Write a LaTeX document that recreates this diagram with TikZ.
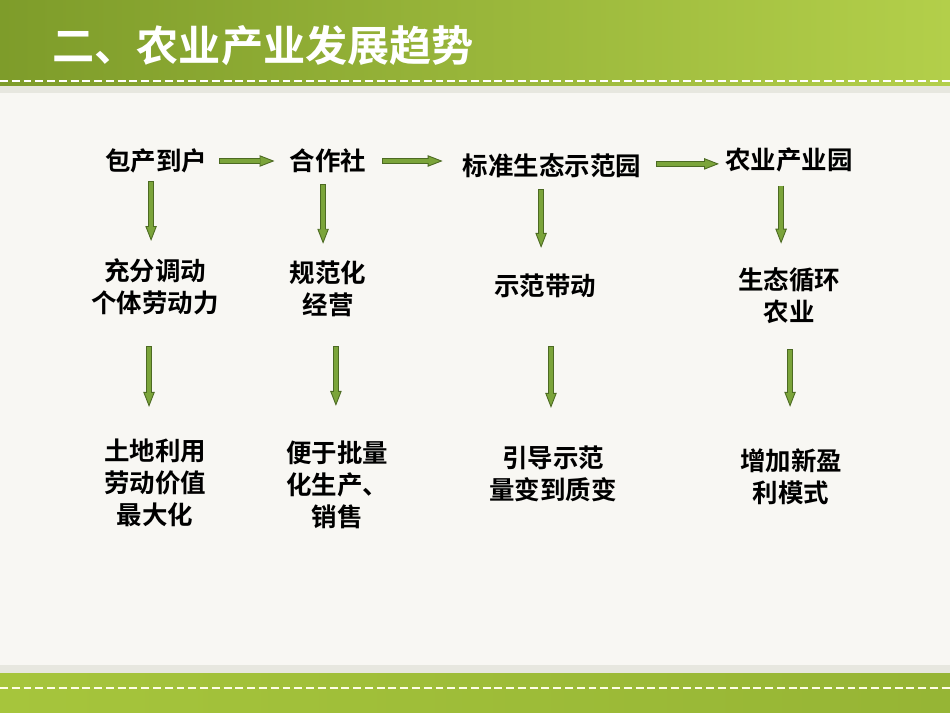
\documentclass[tikz,border=0pt]{standalone}
\usepackage{fontspec}
\newfontfamily\cjk{Noto Sans CJK SC}[BoldFont={Noto Sans CJK SC Bold}]
\usetikzlibrary{arrows.meta,calc}
\definecolor{paper}{HTML}{F8F7F3}
\definecolor{bandgray}{HTML}{E7E7DF}
\definecolor{leafdark}{HTML}{7E9C2A}
\definecolor{leaflight}{HTML}{B3CF4A}
\definecolor{leaffoot}{HTML}{A6C53C}
\definecolor{arrowgreen}{HTML}{7BA43A}
\definecolor{arrowdark}{HTML}{4C6A22}
\tikzset{
  stage/.style={font=\cjk\bfseries\fontsize{14.5}{18.2}\selectfont, align=center, inner sep=0pt},
  flow/.style={draw=arrowdark, line width=3pt,
    -{Triangle[width=6.5pt,length=8.5pt,line width=0.5pt,fill=arrowgreen]},
    postaction={draw=arrowgreen, line width=2pt, -, shorten >=8pt, shorten <=0.5pt}}
}

\begin{document}
\begin{tikzpicture}[x=0.02cm,y=-0.02cm]
  \useasboundingbox (0,0) rectangle (950,713);
  % paper and green bands
  \fill[paper] (0,0) rectangle (950,713);
  \fill[bandgray] (0,85) rectangle (950,93);
  \shade[left color=leafdark, right color=leaflight] (0,0) rectangle (950,86);
  \draw[white, line width=1.3pt, dash pattern=on 4.5pt off 2.2pt] (0,81) -- (950,81);
  \fill[bandgray] (0,665) rectangle (950,674);
  \shade[left color=leaffoot, right color=leafdark!40!leaffoot] (0,673) rectangle (950,713);
  \draw[white!90!yellow, line width=1.3pt, dash pattern=on 4.5pt off 2.2pt] (0,688) -- (950,688);
  \node[font=\cjk\bfseries\fontsize{24}{28}\selectfont, text=white, anchor=west, inner sep=0pt] (title) at (52,46) {二、农业产业发展趋势};

  % first row
  \node[stage] (baochan) at (156,161) {包产到户};
  \node[stage] (hezuo) at (328,161) {合作社};
  \node[stage] (shifanyuan) at (552,166) {标准生态示范园};
  \node[stage] (chanyeyuan) at (789,160) {农业产业园};
  % second row
  \node[stage] (diaodong) at (155,287) {充分调动\\个体劳动力};
  \node[stage] (guifan) at (328,289) {规范化\\经营};
  \node[stage] (daidong) at (545,286) {示范带动};
  \node[stage] (xunhuan) at (789,296) {生态循环\\农业};
  % third row
  \node[stage] (jiazhi) at (155,483) {土地利用\\劳动价值\\最大化};
  \node[stage] (piliang) at (337,485) {便于批量\\化生产、\\销售};
  \node[stage] (zhibian) at (553,474) {引导示范\\量变到质变};
  \node[stage] (yingli) at (791,477) {增加新盈\\利模式};

  % arrows along the top
  \foreach \a/\b/\s/\e/\dy in {baochan/hezuo/6.8/8.5/0, hezuo/shifanyuan/9/11.3/0,
      shifanyuan/chanyeyuan/8.5/3.4/1.2}
    \draw[flow] let \p1=(\a.east), \p2=(\b.west) in (\x1+\s,\y1+\dy) -- (\x2-\e,\y1+\dy);
  % arrows down the columns
  \foreach \a/\b/\dx/\s/\e in {baochan/diaodong/-2.8/4.5/10, hezuo/guifan/-2.8/6.2/9.6,
      shifanyuan/daidong/-6.2/6.2/14.7, chanyeyuan/xunhuan/-4.5/7.4/13.6,
      diaodong/jiazhi/-3.4/17.6/18.1, guifan/piliang/4.5/16.4/19.8,
      daidong/zhibian/3.4/27.2/21.5, xunhuan/yingli/0.6/14.2/23.8}
    \draw[flow] let \p1=(\a.south), \p2=(\b.north) in (\x1+\dx,\y1-\s) -- (\x1+\dx,\y2+\e);
\end{tikzpicture}
\end{document}
